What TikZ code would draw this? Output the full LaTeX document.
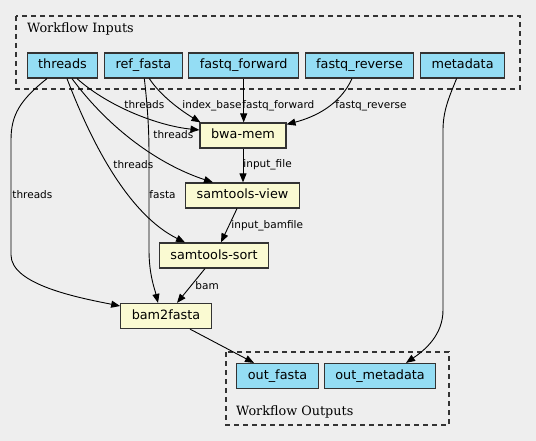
\documentclass[tikz,border=0pt]{standalone}
\usepackage{fontspec}
\setmainfont{DejaVu Serif}
\setsansfont{DejaVu Sans}
\usetikzlibrary{arrows.meta, positioning}

\definecolor{bgcol}{HTML}{EEEEEE}
\definecolor{iocol}{HTML}{94DDF4}
\definecolor{stepcol}{HTML}{FAFAD2}
\definecolor{bordercol}{HTML}{333333}

\begin{document}
\begin{tikzpicture}[x=1pt, y=-1pt,
		io/.style={draw=bordercol, line width=1.2pt, fill=iocol, font=\sffamily\fontsize{12.8}{14}\selectfont,
			inner xsep=11pt, inner ysep=0pt, minimum height=25pt, text height=9.5pt, text depth=2.5pt},
		stepbox/.style={io, fill=stepcol},
		edge/.style={-{Triangle[length=9pt, width=7pt]}, line width=0.9pt, black},
		elabel/.style={font=\sffamily\fontsize{10.5}{12}\selectfont, anchor=base west, inner sep=0pt},
		cluster/.style={draw=bordercol, line width=1.2pt, dash pattern=on 5pt off 4pt},
		ctitle/.style={font=\fontsize{12.8}{14}\selectfont, anchor=base west, inner sep=0pt}
		]
		
		\path[use as bounding box, fill=bgcol] (0,0) rectangle (536,441);
		
		% Clusters
		\draw[cluster] (16,16) rectangle (520,89);
		\node[ctitle] (intitle) at (27,32.5) {Workflow Inputs};
		\draw[cluster] (226,352) rectangle (449,425);
		\node[ctitle] (outtitle) at (236,415.5) {Workflow Outputs};
		
		% Inputs
		\node[io] (threads) at (62.5,65.5) {threads};
		\node[io, right=5.5pt of threads] (reffasta) {ref\_fasta};
		\node[io, right=5.5pt of reffasta] (fqfwd) {fastq\_forward};
		\node[io, right=5.5pt of fqfwd] (fqrev) {fastq\_reverse};
		\node[io, right=5.5pt of fqrev] (metadata) {metadata};
		
		% Steps
		\node[stepbox] (bwamem) at (243,135.5) {bwa-mem};
		\node[stepbox] (samview) at (242.5,195.5) {samtools-view};
		\node[stepbox] (samsort) at (214,255.5) {samtools-sort};
		\node[stepbox] (bam2fasta) at (166,316) {bam2fasta};
		
		% Outputs
		\node[io] (outfasta) at (277.5,376) {out\_fasta};
		\node[io, right=5pt of outfasta] (outmeta) {out\_metadata};
		
		% Edges
		\draw[edge] ([xshift=14.5pt]threads.south) .. controls (110,108) and (160,126) .. ([yshift=5.5pt]bwamem.west)
			node[elabel, at={(124,109)}] {threads};
		\draw[edge] ([xshift=9.5pt]threads.south) .. controls (110,130) and (160,165) .. ([xshift=-29.5pt]samview.north)
			node[elabel, at={(153,139)}] {threads};
		\draw[edge] ([xshift=4.5pt]threads.south) .. controls (93,147) and (130,215) .. ([xshift=-29pt]samsort.north)
			node[elabel, at={(113,169)}] {threads};
		\draw[edge] ([xshift=-15.5pt]threads.south) .. controls (20,100) and (11,115) .. (11,140) -- (11,255)
			.. controls (11,285) and (80,298) .. ([yshift=10pt]bam2fasta.west)
			node[elabel, at={(12,199)}] {threads};
		\draw[edge] ([xshift=6pt]reffasta.south) .. controls (160,95) and (180,110) .. ([xshift=1pt]bwamem.north west)
			node[elabel, at={(182,109)}] {index\_base};
		\draw[edge] ([xshift=1pt]reffasta.south) .. controls (149,120) and (149,140) .. (149,160) -- (149,250)
			.. controls (149,275) and (155,290) .. ([xshift=-8pt]bam2fasta.north)
			node[elabel, at={(149,199)}] {fasta};
		\draw[edge] (fqfwd.south) -- (fqfwd.south |- bwamem.north)
			node[elabel, at={(242,109)}] {fastq\_forward};
		\draw[edge] ([xshift=-7.5pt]fqrev.south) .. controls (340,105) and (315,117) .. ([yshift=-2pt]bwamem.north east)
			node[elabel, at={(335,109)}] {fastq\_reverse};
		\draw[edge] ([xshift=-6pt]metadata.south) .. controls (450,95) and (443,110) .. (443,130) -- (443,310)
			.. controls (443,335) and (425,350) .. ([xshift=26pt]outmeta.north);
		\draw[edge] (bwamem.south) -- (bwamem.south |- samview.north)
			node[elabel, at={(243,168)}] {input\_file};
		\draw[edge] ([xshift=-5.5pt]samview.south) -- ([xshift=7pt]samsort.north)
			node[elabel, at={(231,229)}] {input\_bamfile};
		\draw[edge] ([xshift=-9pt]samsort.south) -- ([xshift=11pt]bam2fasta.north)
			node[elabel, at={(195,289)}] {bam};
		\draw[edge] ([xshift=24pt]bam2fasta.south) -- ([xshift=-23.5pt]outfasta.north);
		
	\end{tikzpicture}
\end{document}
